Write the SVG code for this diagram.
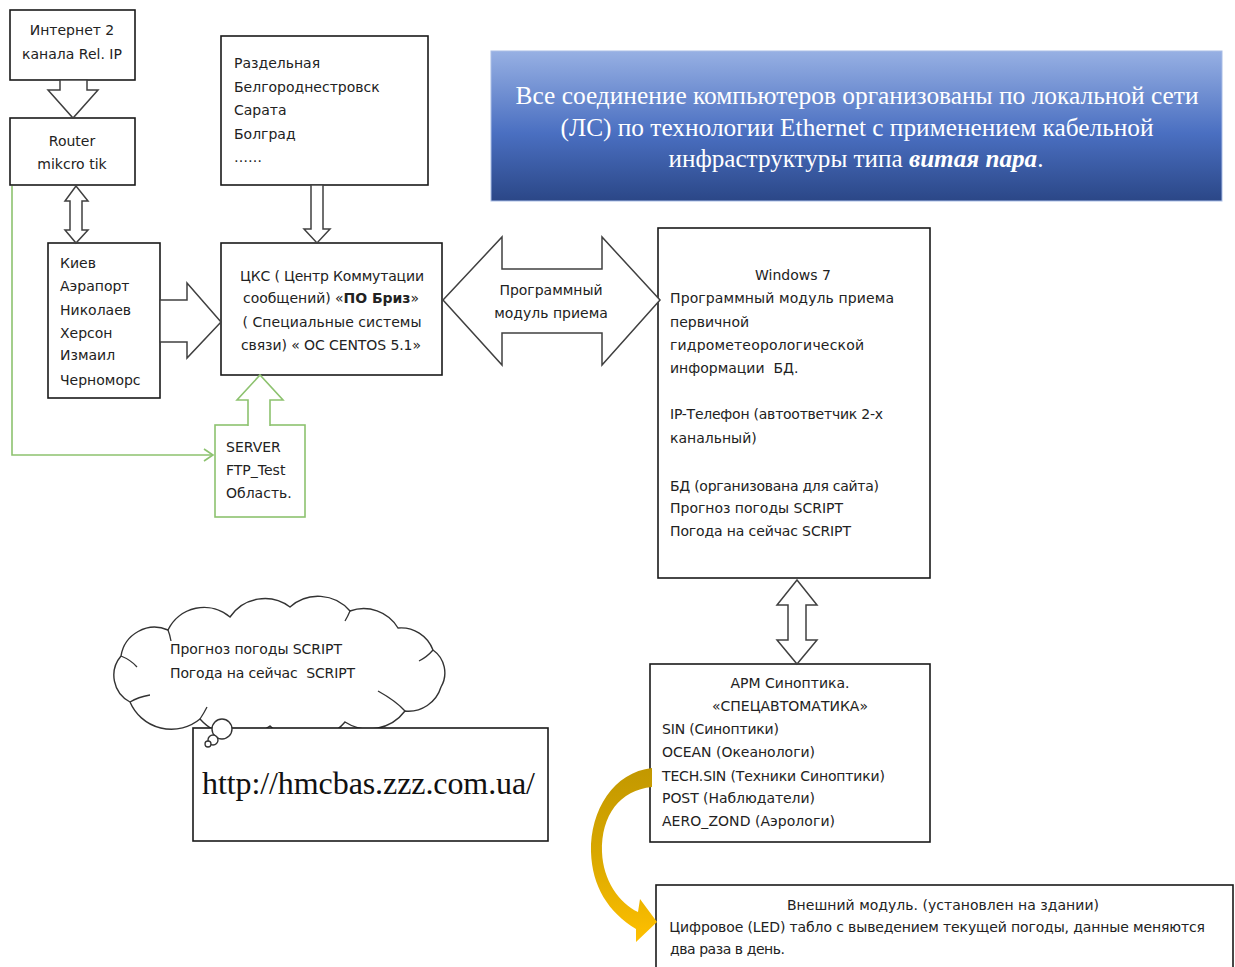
<svg xmlns="http://www.w3.org/2000/svg" width="1235" height="967" viewBox="0 0 1235 967">
<defs>
<linearGradient id="blueGrad" x1="0" y1="0" x2="0" y2="1">
<stop offset="0" stop-color="#97B0E3"/>
<stop offset="0.55" stop-color="#4A6FC1"/>
<stop offset="1" stop-color="#2B4787"/>
</linearGradient>
<linearGradient id="goldGrad" x1="0" y1="0" x2="0" y2="1">
<stop offset="0" stop-color="#C29800"/>
<stop offset="0.5" stop-color="#D9A800"/>
<stop offset="1" stop-color="#FFC000"/>
</linearGradient>
</defs>
<style>
.box{fill:#fff;stroke:#1a1a1a;stroke-width:1.6}
.gbox{fill:#fff;stroke:#8DC26F;stroke-width:1.6}
.barrow{fill:#fff;stroke:#404040;stroke-width:1.5;stroke-linejoin:miter}
.garrow{fill:#fff;stroke:#8DC26F;stroke-width:1.6}
.gline{fill:none;stroke:#8DC26F;stroke-width:1.6}
.t{font-family:"DejaVu Sans","Liberation Sans",sans-serif;font-size:14px;fill:#222;white-space:pre}
.tc{font-family:"DejaVu Sans","Liberation Sans",sans-serif;font-size:14px;fill:#222;text-anchor:middle;white-space:pre}
.ser{font-family:"Liberation Serif","DejaVu Serif",serif}
.cloud{fill:#fff;stroke:#333;stroke-width:1.4}
</style>
<rect width="1235" height="967" fill="#fff"/>

<g id="connectors">
<path class="gline" d="M12,186 L12,455 L212,455"/>
<path class="gline" d="M204,449 L213,455 L204,461"/>
</g>

<g id="internet">
<rect class="box" x="10" y="10" width="125" height="70"/>
<text class="tc" x="72" y="35">Интернет 2</text>
<text class="tc" x="72" y="59">канала Rel. IP</text>
</g>

<g id="router">
<rect class="box" x="10" y="118" width="125" height="67"/>
<text class="tc" x="72" y="146">Router</text>
<text class="tc" x="72" y="169">mikcro tik</text>
</g>

<g id="cities-south">
<rect class="box" x="48" y="243" width="112" height="155"/>
<text class="t" x="60" y="268">Киев</text>
<text class="t" x="60" y="291">Аэрапорт</text>
<text class="t" x="60" y="315">Николаев</text>
<text class="t" x="60" y="338">Херсон</text>
<text class="t" x="60" y="360">Измаил</text>
<text class="t" x="60" y="385">Черноморс</text>
</g>

<g id="cities-west">
<rect class="box" x="221" y="36" width="207" height="149"/>
<text class="t" x="234" y="68">Раздельная</text>
<text class="t" x="234" y="92">Белгороднестровск</text>
<text class="t" x="234" y="115">Сарата</text>
<text class="t" x="234" y="139">Болград</text>
<text class="t" x="234" y="162">……</text>
</g>

<g id="cks">
<rect class="box" x="221" y="243" width="221" height="132"/>
<text class="tc" x="332" y="281" textLength="184">ЦКС ( Центр Коммутации</text>
<text class="tc" x="331" y="303" textLength="176">сообщений) «<tspan font-weight="bold">ПО Бриз</tspan>»</text>
<text class="tc" x="332" y="327" textLength="179">( Специальные системы</text>
<text class="tc" x="331" y="350" textLength="180">связи) « ОС CENTOS 5.1»</text>
</g>

<g id="server">
<rect class="gbox" x="215" y="425" width="90" height="92"/>
<text class="t" x="226" y="452">SERVER</text>
<text class="t" x="226" y="475">FTP_Test</text>
<text class="t" x="226" y="498">Область.</text>
</g>

<g id="banner">
<rect x="491" y="51" width="731" height="150" fill="url(#blueGrad)" stroke="#A9BDE6" stroke-width="1"/>
<text class="ser" x="857" y="104" font-size="25" fill="#fff" text-anchor="middle" textLength="683" lengthAdjust="spacingAndGlyphs">Все соединение компьютеров организованы по локальной сети</text>
<text class="ser" x="857" y="136" font-size="25" fill="#fff" text-anchor="middle" textLength="593" lengthAdjust="spacingAndGlyphs">(ЛС) по технологии Ethernet с применением кабельной</text>
<text class="ser" x="856" y="167" font-size="25" fill="#fff" text-anchor="middle" textLength="375" lengthAdjust="spacingAndGlyphs">инфраструктуры типа <tspan font-weight="bold" font-style="italic">витая пара</tspan>.</text>
</g>

<g id="windows7">
<rect class="box" x="658" y="228" width="272" height="350"/>
<text class="tc" x="793" y="280">Windows 7</text>
<text class="t" x="670" y="303" textLength="224">Программный модуль приема</text>
<text class="t" x="670" y="327">первичной</text>
<text class="t" x="670" y="350" textLength="194">гидрометеорологической</text>
<text class="t" x="670" y="373">информации  БД.</text>
<text class="t" x="670" y="419" textLength="213">IP-Телефон (автоответчик 2-х</text>
<text class="t" x="670" y="443">канальный)</text>
<text class="t" x="670" y="491" textLength="209">БД (организована для сайта)</text>
<text class="t" x="670" y="513" textLength="173">Прогноз погоды SCRIPT</text>
<text class="t" x="670" y="536" textLength="181">Погода на сейчас SCRIPT</text>
</g>

<g id="arm">
<rect class="box" x="650" y="664" width="280" height="178"/>
<text class="tc" x="790" y="688">АРМ Синоптика.</text>
<text class="tc" x="790" y="711" textLength="156">«СПЕЦАВТОМАТИКА»</text>
<text class="t" x="662" y="734" textLength="117">SIN (Синоптики)</text>
<text class="t" x="662" y="757" textLength="153">OCEAN (Океанологи)</text>
<text class="t" x="662" y="781" textLength="223">TECH.SIN (Техники Синоптики)</text>
<text class="t" x="662" y="803" textLength="153">POST (Наблюдатели)</text>
<text class="t" x="662" y="826" textLength="173">AERO_ZOND (Аэрологи)</text>
</g>

<g id="external-module">
<rect class="box" x="656" y="885" width="577" height="90"/>
<text class="tc" x="943" y="910" textLength="312">Внешний модуль. (установлен на здании)</text>
<text class="t" x="665" y="932" textLength="540"> Цифровое (LED) табло с выведением текущей погоды, данные меняются</text>
<text class="t" x="670" y="954" textLength="115">два раза в день.</text>
</g>

<g id="cloud">
<path class="cloud" d="M130,702 A30,30 0 0 1 121,656 A34,34 0 0 1 168,630 A40,40 0 0 1 230,617 A42,42 0 0 1 290,607 A42,42 0 0 1 350,611 A40,40 0 0 1 398,628 A34,34 0 0 1 433,650 A28,28 0 0 1 441,687 A34,34 0 0 1 405,711 A45,45 0 0 1 345,722 A52,52 0 0 1 270,726 A52,52 0 0 1 200,719 A45,45 0 0 1 130,702 Z"/>
<path fill="none" stroke="#333" stroke-width="1.3" d="M121,656 Q131,660 137,667 M168,630 Q170,635 171,641 M350,611 Q348,616 345,621 M433,650 Q427,657 419,661 M405,711 Q396,701 378,691 M200,719 Q204,713 207,707 M130,702 Q138,697 150,695"/>
<text class="t" x="170" y="654" textLength="172">Прогноз погоды SCRIPT</text>
<text class="t" x="170" y="678" textLength="185">Погода на сейчас  SCRIPT</text>
</g>

<g id="website">
<rect class="box" x="193" y="728" width="355" height="113"/>
<text class="ser" x="202" y="794" font-size="32" fill="#111" textLength="333">http://hmcbas.zzz.com.ua/</text>
<circle cx="222" cy="729" r="10" fill="#fff" stroke="#333" stroke-width="1.4"/>
<circle cx="213" cy="740" r="5" fill="#fff" stroke="#333" stroke-width="1.4"/>
<circle cx="208" cy="744" r="3" fill="#fff" stroke="#333" stroke-width="1.3"/>
</g>

<g id="block-arrows">
<polygon class="barrow" points="60,80 60,90 48,90 73,118 98,90 87,90 87,80"/>
<polygon class="barrow" points="76,186 65,201 70,201 70,230 65,230 76,243 88,230 82,230 82,201 88,201"/>
<polygon class="barrow" points="160,300 187,300 187,283 221,322 187,358 187,342 160,342"/>
<polygon class="barrow" points="311,185 311,229 304,229 317,243 330,229 323,229 323,185"/>
<polygon class="barrow" points="443,300 502,237 502,269 602,269 602,237 660,300 602,365 602,333 502,333 502,365"/>
<polygon class="barrow" points="797,580 777,605 788,605 788,640 777,640 797,664 817,640 806,640 806,605 817,605"/>
<path class="garrow" d="M248,426 L248,400 L237,400 L260,375 L283,400 L270,400 L270,426"/>
<text class="tc" x="551" y="295">Программный</text>
<text class="tc" x="551" y="318">модуль приема</text>
</g>

<g id="led-arrow">
<path fill="url(#goldGrad)" d="M652,768 C614,772 590,810 591,852 C592,886 608,912 636,929 L636,942 L657,922 L640,899 L638,912 C619,903 603,880 602,852 C601,815 620,790 652,787 Z"/>
</g>
</svg>
